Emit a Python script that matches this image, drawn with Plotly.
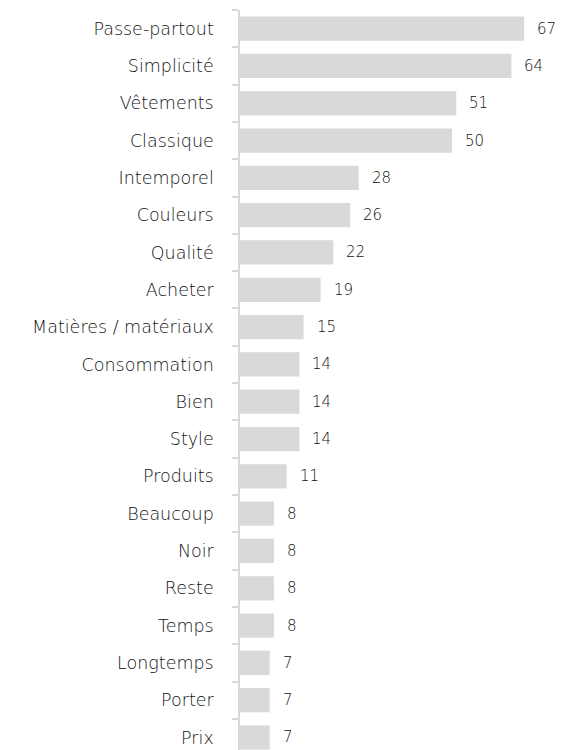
import plotly.graph_objects as go

categories = ["Passe-partout", "Simplicité", "Vêtements", "Classique", "Intemporel",
              "Couleurs", "Qualité", "Acheter", "Matières / matériaux", "Consommation",
              "Bien", "Style", "Produits", "Beaucoup", "Noir", "Reste", "Temps",
              "Longtemps", "Porter", "Prix"]
values = [67, 64, 51, 50, 28, 26, 22, 19, 15, 14, 14, 14, 11, 8, 8, 8, 8, 7, 7, 7]

FONT = "DejaVu Sans"
fig = go.Figure(go.Bar(
    x=values, y=categories, orientation="h",
    marker=dict(color="#d9d9d9", line=dict(width=0)),
    width=0.65, hoverinfo="skip",
))
for c, v in zip(categories, values):
    fig.add_annotation(x=v, y=c, text=str(v), showarrow=False, xanchor="left",
                       xshift=11, font=dict(family=FONT, size=15, color="#111111", weight=200))

# page body has an 8px margin; margins below compensate for it
fig.update_layout(
    width=564, height=750,
    margin=dict(l=232, r=8, t=2, b=0, autoexpand=False),
    plot_bgcolor="white", paper_bgcolor="white",
    showlegend=False,
)
fig.update_xaxes(range=[0, 76.4], visible=False, showgrid=False, zeroline=False,
                 automargin=False)
fig.update_yaxes(
    type="category", categoryorder="array", categoryarray=categories,
    range=[19.55, -0.5], automargin=False,
    showline=True, linecolor="#d9d9d9", linewidth=1.5,
    ticks="outside", ticklen=6, tickcolor="#d9d9d9", tickwidth=1.5,
    tickson="boundaries", ticklabelstandoff=21,
    showgrid=False, zeroline=False,
    tickfont=dict(family=FONT, size=17.5, color="#111111", weight=200),
)
fig.write_html("out.html")
